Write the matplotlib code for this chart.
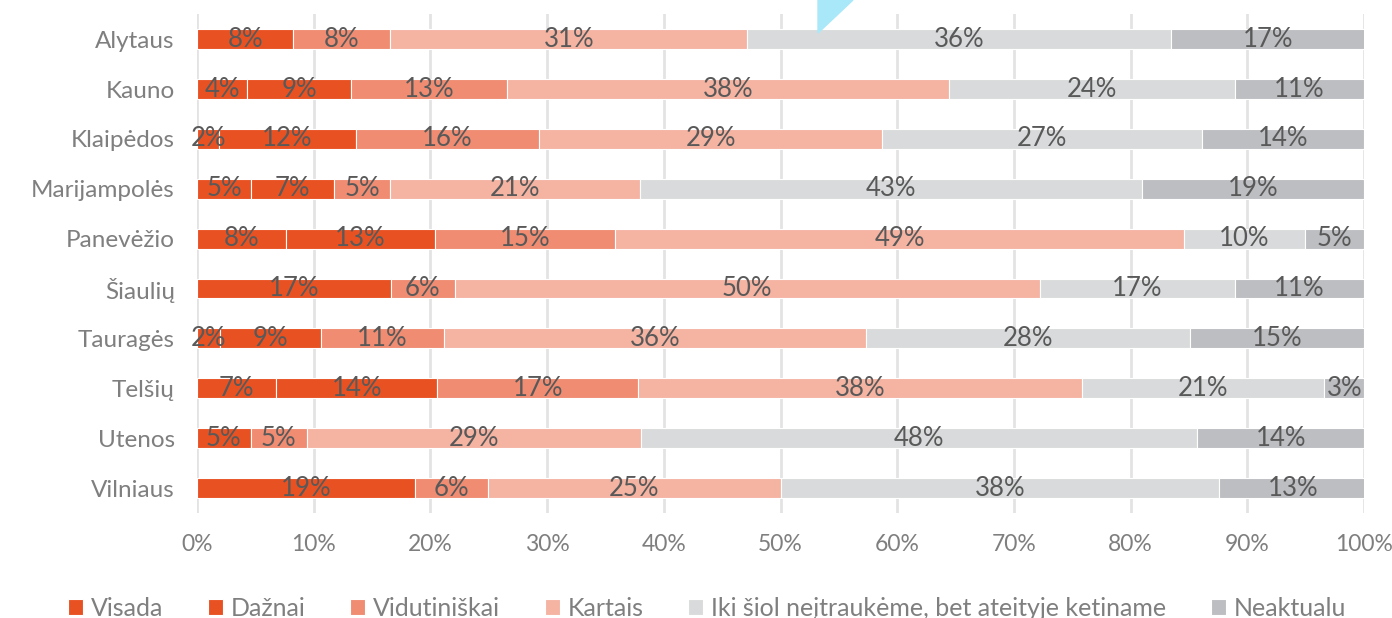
import matplotlib
matplotlib.use("Agg")
import matplotlib.pyplot as plt
import numpy as np
from matplotlib.patches import Polygon

plt.rcParams['font.family'] = ['Lato', 'DejaVu Sans']

# regions, top to bottom
regions = ['Alytaus', 'Kauno', 'Klaipėdos', 'Marijampolės', 'Panevėžio',
           'Šiaulių', 'Tauragės', 'Telšių', 'Utenos', 'Vilniaus']

series_names = ['Visada', 'Dažnai', 'Vidutiniškai', 'Kartais',
                'Iki šiol neįtraukėme, bet ateityje ketiname', 'Neaktualu']

# shares in percent
visada = [0.0, 4.3, 1.9, 4.65, 7.6, 0.0, 2.0, 6.8, 4.6, 0.0]
daznai = [8.25, 8.9, 11.7, 7.1, 12.8, 16.6, 8.6, 13.8, 0.0, 18.7]
vidutiniskai = [8.3, 13.4, 15.7, 4.8, 15.4, 5.5, 10.6, 17.2, 4.8, 6.2]
kartais = [30.6, 37.8, 29.4, 21.4, 48.8, 50.1, 36.1, 38.0, 28.6, 25.1]
iki_siol = [36.3, 24.5, 27.4, 43.0, 10.3, 16.7, 27.8, 20.8, 47.7, 37.6]
neaktualu = [16.6, 11.1, 13.9, 19.0, 5.1, 11.1, 14.9, 3.4, 14.3, 12.6]

colors = ['#E85222', '#E85222', '#F08C72', '#F5B3A2', '#D9DADB', '#BDBEC1']
label_color = '#595959'
tick_color = '#7F7F7F'

fig = plt.figure(figsize=(13.92, 6.18), dpi=100)
ax = fig.add_axes([0.1415, 0.170, 0.8385, 0.807])

y = np.arange(len(regions))
left = np.zeros(len(regions))
all_series = [visada, daznai, vidutiniskai, kartais, iki_siol, neaktualu]
for name, vals, col in zip(series_names, all_series, colors):
    vals = np.array(vals)
    ax.barh(y, vals, left=left, height=0.4, color=col, edgecolor='white',
            linewidth=0.8, label=name, zorder=2)
    for yi, (l, v) in enumerate(zip(left, vals)):
        if v > 0:
            ax.text(l + v / 2, yi, f'{round(v):.0f}%', ha='center', va='center',
                    fontsize=18.5, color=label_color, zorder=3)
    left += vals

ax.set_xlim(0, 100)
ax.set_ylim(len(regions) - 0.5, -0.5)
ax.set_yticks(y)
ax.set_yticklabels(regions)
ax.set_xticks(np.arange(0, 101, 10))
ax.set_xticklabels([f'{t}%' for t in range(0, 101, 10)])
ax.tick_params(axis='both', length=0, labelcolor=tick_color)
ax.tick_params(axis='x', pad=15, labelsize=16.5)
ax.tick_params(axis='y', pad=16, labelsize=17.5)
ax.grid(axis='x', color='#E3E3E3', linewidth=2, zorder=0)
for s in ax.spines.values():
    s.set_visible(False)

fig.legend(loc='center', bbox_to_anchor=(0.508, 1 - 608 / 618), ncol=6,
           frameon=False, fontsize=18, labelcolor=tick_color,
           handlelength=0.6, handleheight=0.6, handletextpad=0.3,
           columnspacing=1.8)

# light blue corner shape at top edge
fig.patches.append(Polygon([[818 / 1392, 1.0], [853 / 1392, 1.0],
                            [818 / 1392, 1 - 33 / 618]], closed=True,
                           transform=fig.transFigure, color='#A9E8F8',
                           zorder=5))

fig.savefig('out.png', dpi=100)
